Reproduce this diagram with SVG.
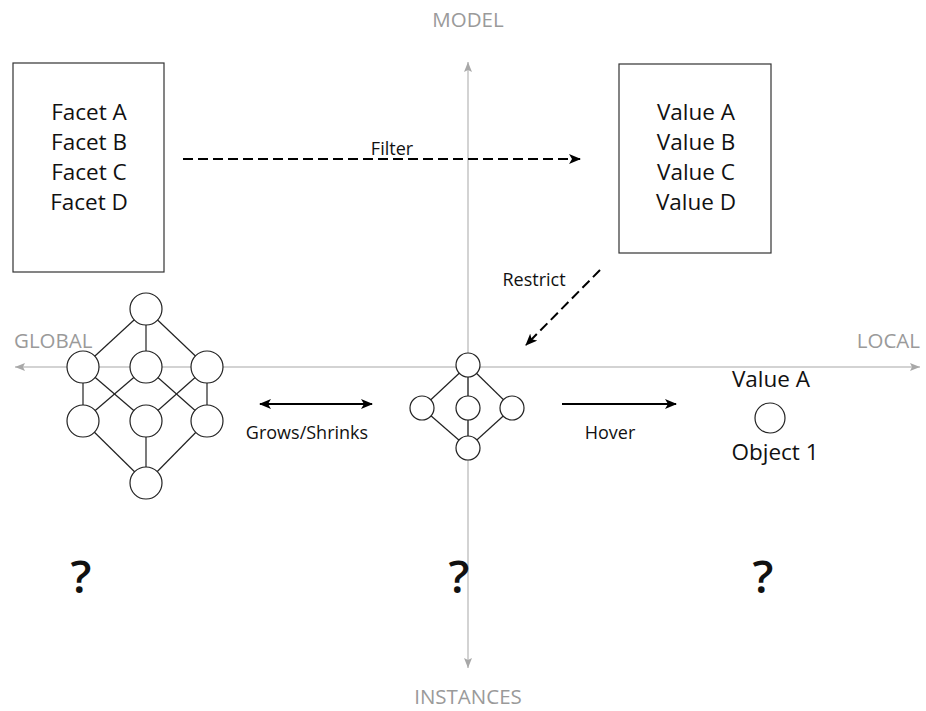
<svg xmlns="http://www.w3.org/2000/svg" width="926" height="711" viewBox="0 0 926 711">
<defs>
<style>
text{font-family:"Open Sans","Noto Sans","Liberation Sans",sans-serif;fill:#111}
.big{font-size:22.5px;text-anchor:middle}
.lab{font-size:18px;text-anchor:middle}
.ax{font-size:20.5px;fill:#9a9a9a}
.q{font-size:46px;font-weight:600;text-anchor:middle}
.axis{stroke:#c4c4c4;stroke-width:1.5;fill:none}
.box{fill:#fff;stroke:#333;stroke-width:1.2}
.node{fill:#fff;stroke:#222;stroke-width:1.2}
.edge{stroke:#222;stroke-width:1.2;fill:none}
.arr{stroke:#000;stroke-width:2;fill:none}
.dash{stroke-dasharray:10 5}
</style>
<marker id="ah" viewBox="0 0 12 10" refX="11" refY="5" markerWidth="12" markerHeight="10" markerUnits="userSpaceOnUse" orient="auto-start-reverse">
<path d="M0,0 L12,5 L0,10 L3,5 Z" fill="#000"/>
</marker>
<marker id="ax" viewBox="0 0 10 8" refX="10" refY="4" markerWidth="10" markerHeight="8" markerUnits="userSpaceOnUse" orient="auto-start-reverse">
<path d="M0,0 L10,4 L0,8 L2,4 Z" fill="#a8a8a8"/>
</marker>
</defs>
<rect width="926" height="711" fill="#fff"/>

<g id="axes">
<line class="axis" x1="15" y1="367" x2="920" y2="367" marker-start="url(#ax)" marker-end="url(#ax)"/>
<line class="axis" x1="468" y1="62" x2="468" y2="668" marker-start="url(#ax)" marker-end="url(#ax)"/>
<text class="ax" x="468" y="27" text-anchor="middle">MODEL</text>
<text class="ax" x="468" y="704" text-anchor="middle">INSTANCES</text>
<text class="ax" x="14" y="348">GLOBAL</text>
<text class="ax" x="920" y="348" text-anchor="end">LOCAL</text>
</g>

<g id="facets">
<rect class="box" x="13" y="63" width="151" height="209"/>
<text class="big" x="89" y="120">Facet A</text>
<text class="big" x="89" y="150">Facet B</text>
<text class="big" x="89" y="180">Facet C</text>
<text class="big" x="89" y="210">Facet D</text>
</g>

<g id="values">
<rect class="box" x="619" y="64" width="152" height="189"/>
<text class="big" x="696" y="120">Value A</text>
<text class="big" x="696" y="150">Value B</text>
<text class="big" x="696" y="180">Value C</text>
<text class="big" x="696" y="210">Value D</text>
</g>

<g id="connectors">
<line class="arr dash" x1="183" y1="159" x2="580" y2="159" marker-end="url(#ah)"/>
<text class="lab" x="392" y="155">Filter</text>
<line class="arr dash" x1="600" y1="270" x2="526" y2="345" marker-end="url(#ah)"/>
<text class="lab" x="534" y="286">Restrict</text>
<line class="arr" x1="260" y1="404" x2="372" y2="404" marker-start="url(#ah)" marker-end="url(#ah)"/>
<text class="lab" x="307" y="439">Grows/Shrinks</text>
<line class="arr" x1="562" y1="404" x2="676" y2="404" marker-end="url(#ah)"/>
<text class="lab" x="610" y="439">Hover</text>
</g>

<g id="lattice-global">
<g class="edge">
<line x1="146" y1="309" x2="83" y2="367"/>
<line x1="146" y1="309" x2="146" y2="367"/>
<line x1="146" y1="309" x2="207" y2="367"/>
<line x1="83" y1="367" x2="83" y2="421"/>
<line x1="83" y1="367" x2="146" y2="421"/>
<line x1="146" y1="367" x2="83" y2="421"/>
<line x1="146" y1="367" x2="207" y2="421"/>
<line x1="207" y1="367" x2="146" y2="421"/>
<line x1="207" y1="367" x2="207" y2="421"/>
<line x1="83" y1="421" x2="146" y2="483"/>
<line x1="146" y1="421" x2="146" y2="483"/>
<line x1="207" y1="421" x2="146" y2="483"/>
</g>
<circle class="node" cx="146" cy="309" r="16"/>
<circle class="node" cx="83" cy="367" r="16"/>
<circle class="node" cx="146" cy="367" r="16"/>
<circle class="node" cx="207" cy="367" r="16"/>
<circle class="node" cx="83" cy="421" r="16"/>
<circle class="node" cx="146" cy="421" r="16"/>
<circle class="node" cx="207" cy="421" r="16"/>
<circle class="node" cx="146" cy="483" r="16"/>
</g>

<g id="lattice-center">
<g class="edge">
<line x1="468" y1="365" x2="422" y2="408"/>
<line x1="468" y1="365" x2="468" y2="408"/>
<line x1="468" y1="365" x2="512" y2="408"/>
<line x1="422" y1="408" x2="468" y2="448"/>
<line x1="468" y1="408" x2="468" y2="448"/>
<line x1="512" y1="408" x2="468" y2="448"/>
</g>
<circle class="node" cx="468" cy="365" r="12"/>
<circle class="node" cx="422" cy="408" r="12"/>
<circle class="node" cx="468" cy="408" r="12"/>
<circle class="node" cx="512" cy="408" r="12"/>
<circle class="node" cx="468" cy="448" r="12"/>
</g>

<g id="object">
<text class="big" x="771" y="387">Value A</text>
<circle class="node" cx="770" cy="418" r="15"/>
<text class="big" x="775" y="460">Object 1</text>
</g>

<g id="questions">
<text class="q" x="81" y="593">?</text>
<text class="q" x="459" y="593">?</text>
<text class="q" x="763" y="593">?</text>
</g>
</svg>
